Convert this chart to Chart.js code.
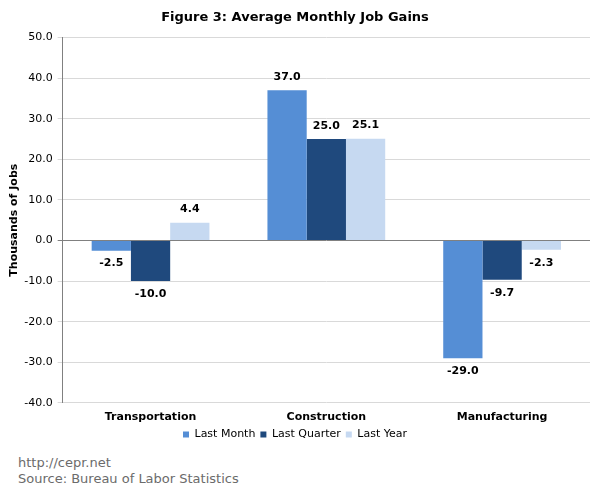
<!DOCTYPE html>
<html>
<head>
<meta charset="utf-8">
<script src="https://cdn.jsdelivr.net/npm/chart.js@4.4.0/dist/chart.umd.min.js"></script>
<style>
  body { margin: 0; background: #fff; }
  #wrap { position: relative; width: 600px; height: 492px; }
  .note { position: absolute; left: 18px; font: 13px "DejaVu Sans", Verdana, sans-serif; color: #6b6b6b; }
</style>
</head>
<body>
<div id="wrap">
  <canvas id="myChart" width="600" height="450"></canvas>
  <div class="note" style="top:455px;">http://cepr.net</div>
  <div class="note" style="top:471px;">Source: Bureau of Labor Statistics</div>
</div>
<script>
var categories = ["Transportation", "Construction", "Manufacturing"];
var last_month = [-2.5, 37.0, -29.0];
var last_quarter = [-10.0, 25.0, -9.7];
var last_year = [4.4, 25.1, -2.3];

Chart.defaults.font.family = "'DejaVu Sans', Verdana, sans-serif";
Chart.defaults.color = "#000";

// value labels above / below each bar
var barLabels = {
	id: "barLabels",
	afterDatasetsDraw: function (chart) {
		var ctx = chart.ctx;
		ctx.save();
		ctx.font = "bold 11px 'DejaVu Sans', Verdana, sans-serif";
		ctx.fillStyle = "#000";
		ctx.textAlign = "center";
		ctx.textBaseline = "middle";
		chart.data.datasets.forEach(function (ds, i) {
			chart.getDatasetMeta(i).data.forEach(function (bar, j) {
				var v = ds.data[j];
				var y = v >= 0 ? bar.y - 13 : bar.y + 13;
				ctx.fillText(v.toFixed(1), bar.x, y);
			});
		});
		ctx.restore();
	},
};

const config = {
	type: "bar",
	data: {
		labels: categories,
		datasets: [
			{ label: "Last Month", data: last_month, backgroundColor: "#558ed5" },
			{ label: "Last Quarter", data: last_quarter, backgroundColor: "#1f497d" },
			{ label: "Last Year", data: last_year, backgroundColor: "#c6d9f1" },
		],
	},
	options: {
		responsive: false,
		animation: false,
		layout: { padding: { left: 0, right: 10, top: 0, bottom: 0 } },
		datasets: { bar: { barPercentage: 1, categoryPercentage: 0.67 } },
		plugins: {
			title: {
				display: true,
				text: "Figure 3: Average Monthly Job Gains",
				font: { size: 13, weight: "bold" },
				padding: { top: 10, bottom: 12 },
			},
			legend: {
				position: "bottom",
				labels: { boxWidth: 6, boxHeight: 6, padding: 5, font: { size: 11 } },
			},
			tooltip: { enabled: false },
		},
		scales: {
			y: {
				min: -40,
				max: 50,
				ticks: {
					stepSize: 10,
					padding: 5,
					font: { size: 11 },
					callback: function (v) { return v.toFixed(1); },
				},
				grid: {
					color: function (c) { return c.tick && c.tick.value === 0 ? "#808080" : "#d9d9d9"; },
					tickLength: 5,
				},
				border: { color: "#808080" },
				title: {
					display: true,
					text: "Thousands of Jobs",
					font: { size: 11, weight: "bold" },
					padding: { top: 8, bottom: -2 },
				},
			},
			x: {
				grid: { display: false },
				border: { display: false },
				ticks: { padding: 0, font: { size: 11, weight: "bold" } },
			},
		},
	},
	plugins: [barLabels],
};

const myChart = new Chart(document.getElementById("myChart"), config);
</script>
</body>
</html>
